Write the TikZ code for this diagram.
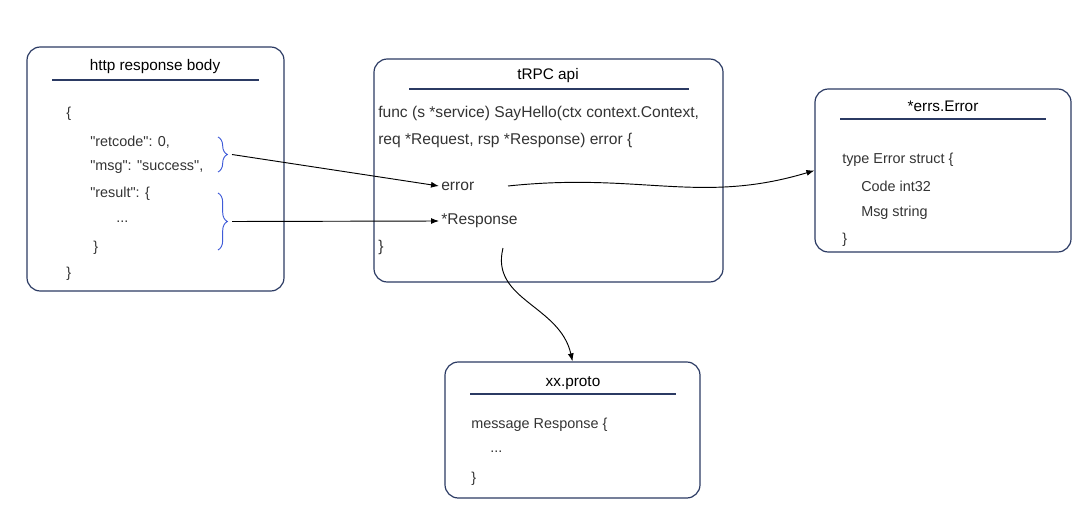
\documentclass[tikz,border=0pt]{standalone}
\usepackage{fontspec}
\setmainfont{Liberation Sans}
\usetikzlibrary{arrows.meta,decorations.pathreplacing,calc}
\definecolor{navy}{HTML}{2B3A63}
\definecolor{txt}{HTML}{333333}
\definecolor{brc}{HTML}{3F5BD8}
\newcommand{\dq}{\XeTeXglyph\XeTeXcharglyph"22\relax}
\begin{document}
\begin{tikzpicture}[x=0.75pt,y=-0.75pt,
  box/.style={draw=navy, line width=0.9pt, rounded corners=10pt, inner sep=0pt},
  ttl/.style={font=\fontsize{11.5pt}{13pt}\selectfont, text=black, inner sep=0pt},
  code/.style={font=\fontsize{10.8pt}{12pt}\selectfont, text=txt, anchor=west, inner sep=0pt},
  bigcode/.style={code, font=\fontsize{11.7pt}{13pt}\selectfont},
  rule/.style={draw=navy, line width=0.9pt},
  brc/.style={draw=brc, line width=0.7pt, decorate, decoration={brace, amplitude=7pt}},
  conn/.style={draw=black, line width=0.7pt, -{Latex[length=6pt,width=4.5pt]}}]
\useasboundingbox (0,0) rectangle (1080,517);
% boxes
\node[box, minimum width=192.75pt, minimum height=183pt] (http) at (155.5,169) {};
\node[box, minimum width=261.75pt, minimum height=167.25pt] (trpc) at (548.5,170.5) {};
\node[box, minimum width=192pt, minimum height=122.25pt] (errs) at (943,170.5) {};
\node[box, minimum width=191.25pt, minimum height=102pt] (proto) at (572.5,430) {};
% titles
\node[ttl] (httpT) at (155,67) {http response body};
\draw[rule] (52,80) -- (259,80);
\node[ttl] (trpcT) at (548,76) {tRPC api};
\draw[rule] (409,89) -- (689,89);
\node[ttl] (errsT) at (943,106) {*errs.Error};
\draw[rule] (840,119) -- (1046,119);
\node[ttl] (protoT) at (573,383) {xx.proto};
\draw[rule] (470,394) -- (676,394);
% http body
\node[code] (h1) at (66,114) {\{};
\node[code] (h2) at (90,142) {\dq retcode\dq: 0,};
\node[code] (h3) at (90,167) {\dq msg\dq: \dq success\dq,};
\node[code] (h4) at (90,194) {\dq result\dq: \{};
\node[code] (h5) at (116,222) {...};
\node[code] (h6) at (93,248) {\}};
\node[code] (h7) at (66,274) {\}};
% braces
\draw[brc] (218,137) -- (218,172);
\coordinate (b1) at (232,154.5);
\draw[brc] (218,193) -- (218,250);
\coordinate (b2) at (232,221.5);
% trpc
\node[bigcode] (t1) at (378,113) {func (s *service) SayHello(ctx context.Context,};
\node[bigcode] (t2) at (378,140) {req *Request, rsp *Response) error \{};
\node[bigcode] (err) at (441,186) {error};
\node[bigcode] (resp) at (441,221) {*Response};
\node[bigcode] (t5) at (378,247) {\}};
% errs
\node[code] (e1) at (842,160) {type Error struct \{};
\node[code] (e2) at (861,186) {Code int32};
\node[code] (e3) at (861,213) {Msg string};
\node[code] (e4) at (842,240) {\}};
% proto
\node[code] (p1) at (471,425) {message Response \{};
\node[code] (p2) at (490,452) {...};
\node[code] (p3) at (471,479) {\}};
% connectors
\coordinate (errOut) at (508,186);
\coordinate (respOut) at (503,248);
\draw[conn] (b1) -- ($(err.west)+(-2,0)$);
\draw[conn] (b2) -- ($(resp.west)+(-2,0)$);
\draw[conn] (errOut) .. controls (640,172) and (700,205) .. (errs.west);
\draw[conn] (respOut) .. controls (490,300) and (560,305) .. (proto.north);
\end{tikzpicture}
\end{document}
